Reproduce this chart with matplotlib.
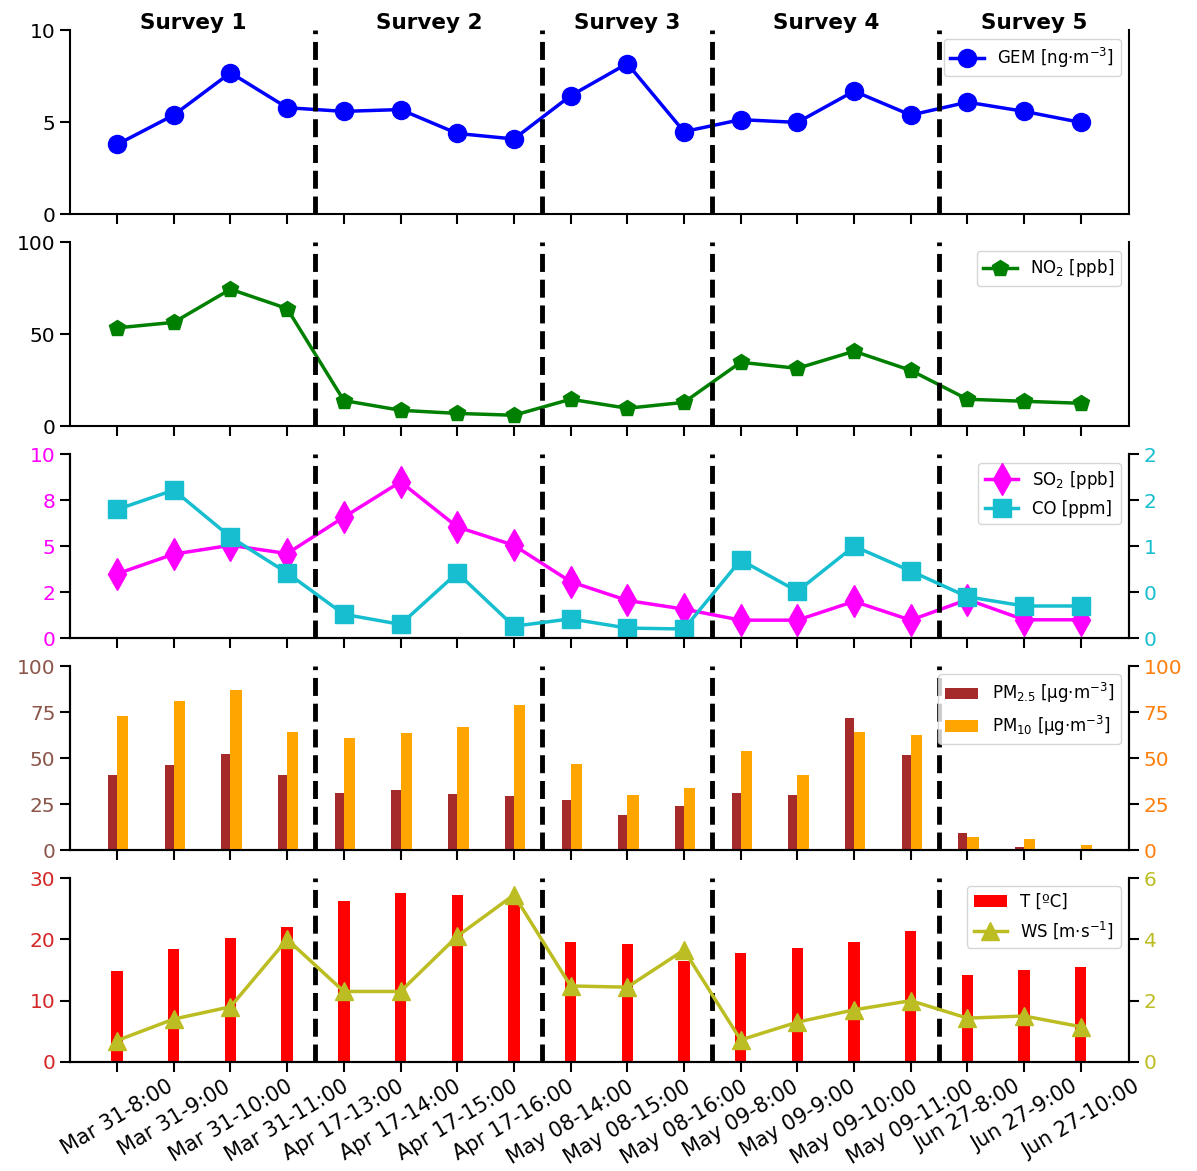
import matplotlib.pyplot as plt
import numpy as np
from matplotlib.ticker import FormatStrFormatter
from matplotlib.transforms import blended_transform_factory

# Sampling times (x axis) and survey grouping
TIME_LABELS = ["Mar 31-8:00", "Mar 31-9:00", "Mar 31-10:00", "Mar 31-11:00",
               "Apr 17-13:00", "Apr 17-14:00", "Apr 17-15:00", "Apr 17-16:00",
               "May 08-14:00", "May 08-15:00", "May 08-16:00",
               "May 09-8:00", "May 09-9:00", "May 09-10:00", "May 09-11:00",
               "Jun 27-8:00", "Jun 27-9:00", "Jun 27-10:00"]
SURVEY_NAMES = ["Survey 1", "Survey 2", "Survey 3", "Survey 4", "Survey 5"]
SURVEY_SIZES = [4, 4, 3, 4, 3]

# Measured values
GEM = [3.8, 5.4, 7.7, 5.8, 5.6, 5.7, 4.4, 4.1, 6.45, 8.2, 4.5, 5.15, 5.0, 6.7, 5.4, 6.1, 5.6, 5.0]
NO2 = [53.5, 56.5, 74.5, 64, 14, 8.7, 7, 6, 14.7, 9.8, 13, 34.8, 31.5, 40.8, 30.4, 14.7, 13.6, 12.5]
SO2 = [3.5, 4.57, 5.05, 4.6, 6.58, 8.5, 6.05, 5.05, 3.07, 2.05, 1.58, 0.98, 0.98, 2.0, 0.98, 2.1, 1.0, 1.0]
CO = [1.40, 1.61, 1.10, 0.71, 0.26, 0.15, 0.71, 0.13, 0.21, 0.11, 0.10, 0.85, 0.51, 1.0, 0.73, 0.45, 0.35, 0.35]
PM25 = [41, 46, 52, 41, 31, 32.6, 30.5, 29.5, 27, 19, 24, 31, 30, 72, 51.6, 9.2, 1.8, 0.6]
PM10 = [73, 81, 87, 64, 61, 63.6, 67, 79, 47, 30, 34, 54, 41, 64, 62.5, 7, 5.8, 3]
TEMP = [14.8, 18.4, 20.2, 22.0, 26.3, 27.6, 27.3, 26.8, 19.5, 19.3, 16.5, 17.8, 18.6, 19.6, 21.4, 14.2, 15.0, 15.5]
WS = [0.7, 1.4, 1.8, 4.0, 2.3, 2.3, 4.1, 5.45, 2.48, 2.44, 3.65, 0.72, 1.3, 1.7, 2.0, 1.43, 1.5, 1.15]

TICK_SIZE = 14.5
LEGEND_SIZE = 12


def style_axis(ax, right_spine=True):
    ax.spines["top"].set_visible(False)
    ax.spines["right"].set_visible(right_spine)
    ax.tick_params(axis="both", direction="out", length=7, width=1.5, labelsize=TICK_SIZE)
    for side in ("left", "bottom", "right"):
        ax.spines[side].set_linewidth(1.5)


def main() -> None:
    x = np.arange(len(TIME_LABELS))
    breaks = np.cumsum(SURVEY_SIZES)[:-1] - 0.5
    xlim = (-0.83, len(x) - 1 + 0.85)

    fig, axes = plt.subplots(5, 1, figsize=(11.97, 11.71), dpi=100, sharex=True)
    fig.subplots_adjust(left=0.0585, right=0.9432, top=0.974, bottom=0.0931, hspace=0.152)

    # Panel 1: GEM
    ax = axes[0]
    ax.plot(x, GEM, color="blue", marker="o", markersize=13, linewidth=2.5,
            label="GEM [ng$\\cdot$m$^{-3}$]")
    ax.set_ylim(0, 10)
    ax.set_yticks([0, 5, 10])
    ax.legend(loc="upper right", fontsize=LEGEND_SIZE)

    # Panel 2: NO2
    ax = axes[1]
    ax.plot(x, NO2, color="green", marker="p", markersize=12, linewidth=2.5,
            label="NO$_2$ [ppb]")
    ax.set_ylim(0, 100)
    ax.set_yticks([0, 50, 100])
    ax.legend(loc="upper right", fontsize=LEGEND_SIZE)

    # Panel 3: SO2 / CO
    ax = axes[2]
    l1, = ax.plot(x, SO2, color="magenta", marker="d", markersize=16, linewidth=2.5,
                  label="SO$_2$ [ppb]")
    ax.set_ylim(0, 10)
    ax.set_yticks([0, 2.5, 5, 7.5, 10])
    ax.yaxis.set_major_formatter(FormatStrFormatter("%.0f"))
    ax.tick_params(axis="y", labelcolor="magenta")
    ax3r = ax.twinx()
    l2, = ax3r.plot(x, CO, color="tab:cyan", marker="s", markersize=13, linewidth=2.5,
                    label="CO [ppm]")
    ax3r.set_ylim(0, 2)
    ax3r.set_yticks([0, 0.5, 1, 1.5, 2])
    ax3r.yaxis.set_major_formatter(FormatStrFormatter("%.0f"))
    style_axis(ax3r)
    ax3r.tick_params(axis="y", labelcolor="tab:cyan")
    ax3r.legend(handles=[l1, l2], loc="upper right", fontsize=LEGEND_SIZE)

    # Panel 4: PM2.5 / PM10
    ax = axes[3]
    b1 = ax.bar(x, PM25, width=-0.16, align="edge", color="brown",
                label="PM$_{2.5}$ [µg$\\cdot$m$^{-3}$]")
    ax.set_ylim(0, 100)
    ax.set_yticks([0, 25, 50, 75, 100])
    ax.tick_params(axis="y", labelcolor="tab:brown")
    ax4r = ax.twinx()
    b2 = ax4r.bar(x, PM10, width=0.2, align="edge", color="orange",
                  label="PM$_{10}$ [µg$\\cdot$m$^{-3}$]")
    ax4r.set_ylim(0, 100)
    ax4r.set_yticks([0, 25, 50, 75, 100])
    style_axis(ax4r)
    ax4r.tick_params(axis="y", labelcolor="tab:orange")
    ax4r.legend(handles=[b1, b2], loc="upper right", fontsize=LEGEND_SIZE)

    # Panel 5: temperature / wind speed
    ax = axes[4]
    b3 = ax.bar(x, TEMP, width=0.2, color="red", label="T [ºC]")
    ax.set_ylim(0, 30)
    ax.set_yticks([0, 10, 20, 30])
    ax.tick_params(axis="y", labelcolor="tab:red")
    ax5r = ax.twinx()
    l3, = ax5r.plot(x, WS, color="tab:olive", marker="^", markersize=13, linewidth=2.5,
                    label="WS [m$\\cdot$s$^{-1}$]")
    ax5r.set_ylim(0, 6)
    ax5r.set_yticks([0, 2, 4, 6])
    style_axis(ax5r)
    ax5r.tick_params(axis="y", labelcolor="tab:olive")
    ax5r.legend(handles=[b3, l3], loc="upper right", fontsize=LEGEND_SIZE)

    for i, ax in enumerate(axes):
        style_axis(ax, right_spine=True)
        if i < 2:
            ax.tick_params(axis="y", right=False)
        for b in breaks:
            ax.axvline(b, color="black", linestyle="--", linewidth=3.5, zorder=5)

    axes[-1].set_xlim(*xlim)
    axes[-1].set_xticks(x)
    axes[-1].set_xticklabels(TIME_LABELS, rotation=31, ha="center", fontsize=15)

    # Survey labels centred over each block
    edges = np.concatenate([[xlim[0]], breaks, [xlim[1]]])
    trans = blended_transform_factory(axes[0].transData, axes[0].transAxes)
    for name, lo, hi in zip(SURVEY_NAMES, edges[:-1], edges[1:]):
        axes[0].text((lo + hi) / 2, 1.01, name, transform=trans, ha="center",
                     va="baseline", fontsize=15.5, fontweight="bold")

    plt.savefig("out.png", dpi=100)


if __name__ == "__main__":
    main()
